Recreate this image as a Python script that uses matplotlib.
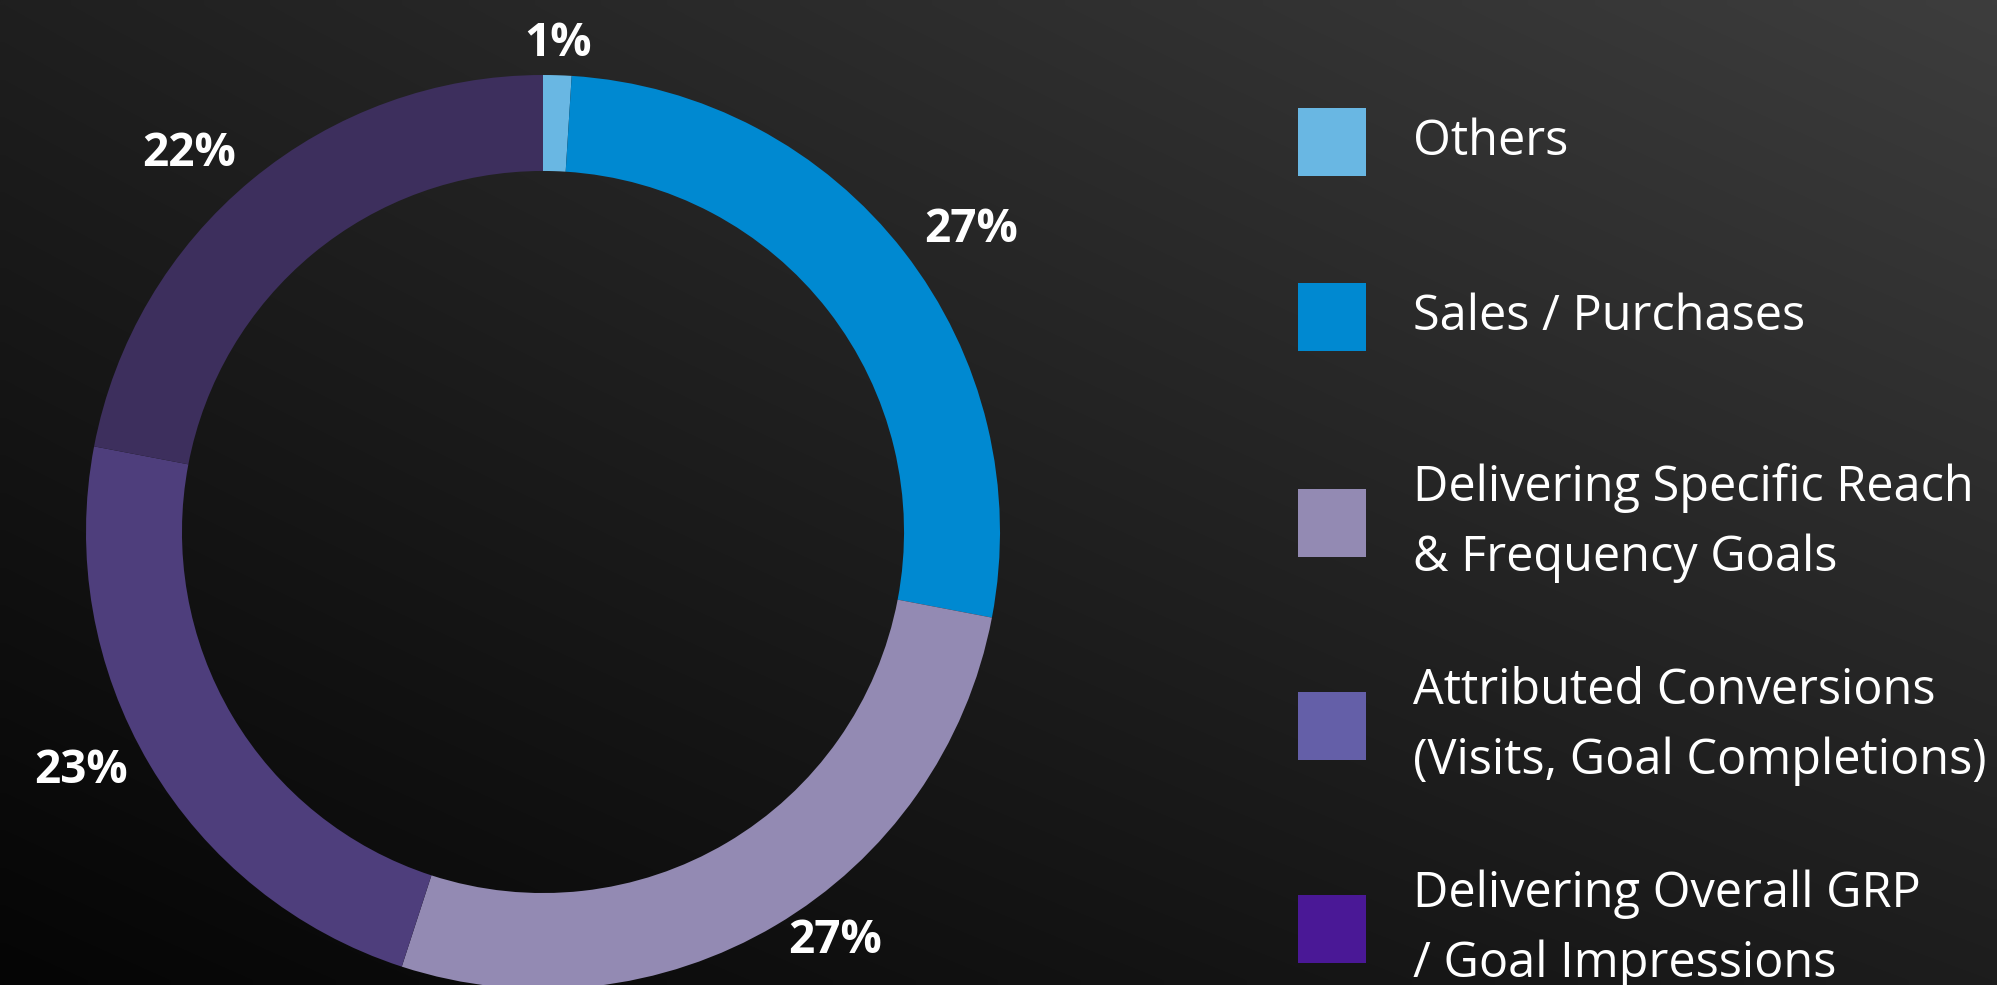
import numpy as np
import matplotlib
matplotlib.use("Agg")
import matplotlib.pyplot as plt
from matplotlib.patches import Rectangle

# ---- data ----
categories = ["Others", "Sales / Purchases",
              "Delivering Specific Reach\n& Frequency Goals",
              "Attributed Conversions\n(Visits, Goal Completions)",
              "Delivering Overall GRP\n/ Goal Impressions"]
values = [1, 27, 27, 23, 22]
pct_labels = ["1%", "27%", "27%", "23%", "22%"]
ring_colors = ["#69b7e3", "#0089d1", "#938ab3", "#4e3e7c", "#3d2f5d"]
legend_colors = ["#69b7e3", "#0089d1", "#938ab3", "#645fa8", "#4a1896"]

# ---- layout ----
W, H, DPI = 1997, 985, 100
cx, cy, R = 543, 532, 457          # pixel centre (from top) and outer radius
ring_width = 0.21
label_r = 1.055

plt.rcParams['font.family'] = ['Open Sans', 'DejaVu Sans']

fig = plt.figure(figsize=(W / DPI, H / DPI), dpi=DPI)
ax = fig.add_axes([0, 0, 1, 1])

wedges, _ = ax.pie(
    values, colors=ring_colors, startangle=90, counterclock=False,
    radius=1, wedgeprops=dict(width=ring_width, edgecolor='none', linewidth=0))

for w, lab in zip(wedges, pct_labels):
    th = np.deg2rad((w.theta1 + w.theta2) / 2)
    c, s = np.cos(th), np.sin(th)
    ha = 'left' if c > 0.15 else ('right' if c < -0.15 else 'center')
    ax.annotate(lab, (label_r * c, label_r * s), xytext=(0, 5),
                textcoords='offset points', color="white", fontsize=33,
                fontweight="bold", ha=ha, va='center')

xmin, xmax = -cx / R, (W - cx) / R
ymin, ymax = -(H - cy) / R, cy / R
ax.set_xlim(xmin, xmax)
ax.set_ylim(ymin, ymax)
ax.set_aspect('auto')
ax.axis('off')

# background gradient (bottom-left dark -> top-right lighter)
nx, ny = 200, 100
gx = np.linspace(0, 1, nx)[None, :]
gy = np.linspace(0, 1, ny)[:, None]      # 0 bottom, 1 top
bl, br, tl, tr = 5, 29, 31, 61
val = bl * (1 - gx) * (1 - gy) + br * gx * (1 - gy) + tl * (1 - gx) * gy + tr * gx * gy
img = np.dstack([val, val, val]) / 255.0
ax.imshow(img, extent=(xmin, xmax, ymin, ymax), origin='lower',
          aspect='auto', zorder=-10, interpolation='bilinear')

# legend drawn manually in pixel coordinates
def px(x, y):
    return (x / W, 1 - y / H)

sq_x, sq_size = 1298, 68
text_x = 1413
item_y = [142, 317, 523, 726, 929]
for lab, col, yc in zip(categories, legend_colors, item_y):
    x0, y0 = px(sq_x, yc + sq_size / 2)
    fig.patches.append(Rectangle((x0, y0), sq_size / W, sq_size / H,
                                 transform=fig.transFigure, facecolor=col,
                                 edgecolor='none'))
    tx, ty = px(text_x, yc)
    fig.text(tx, ty, lab, color="white", fontsize=35, va='center', ha='left',
             linespacing=1.55)

fig.savefig("out.png", dpi=DPI)
